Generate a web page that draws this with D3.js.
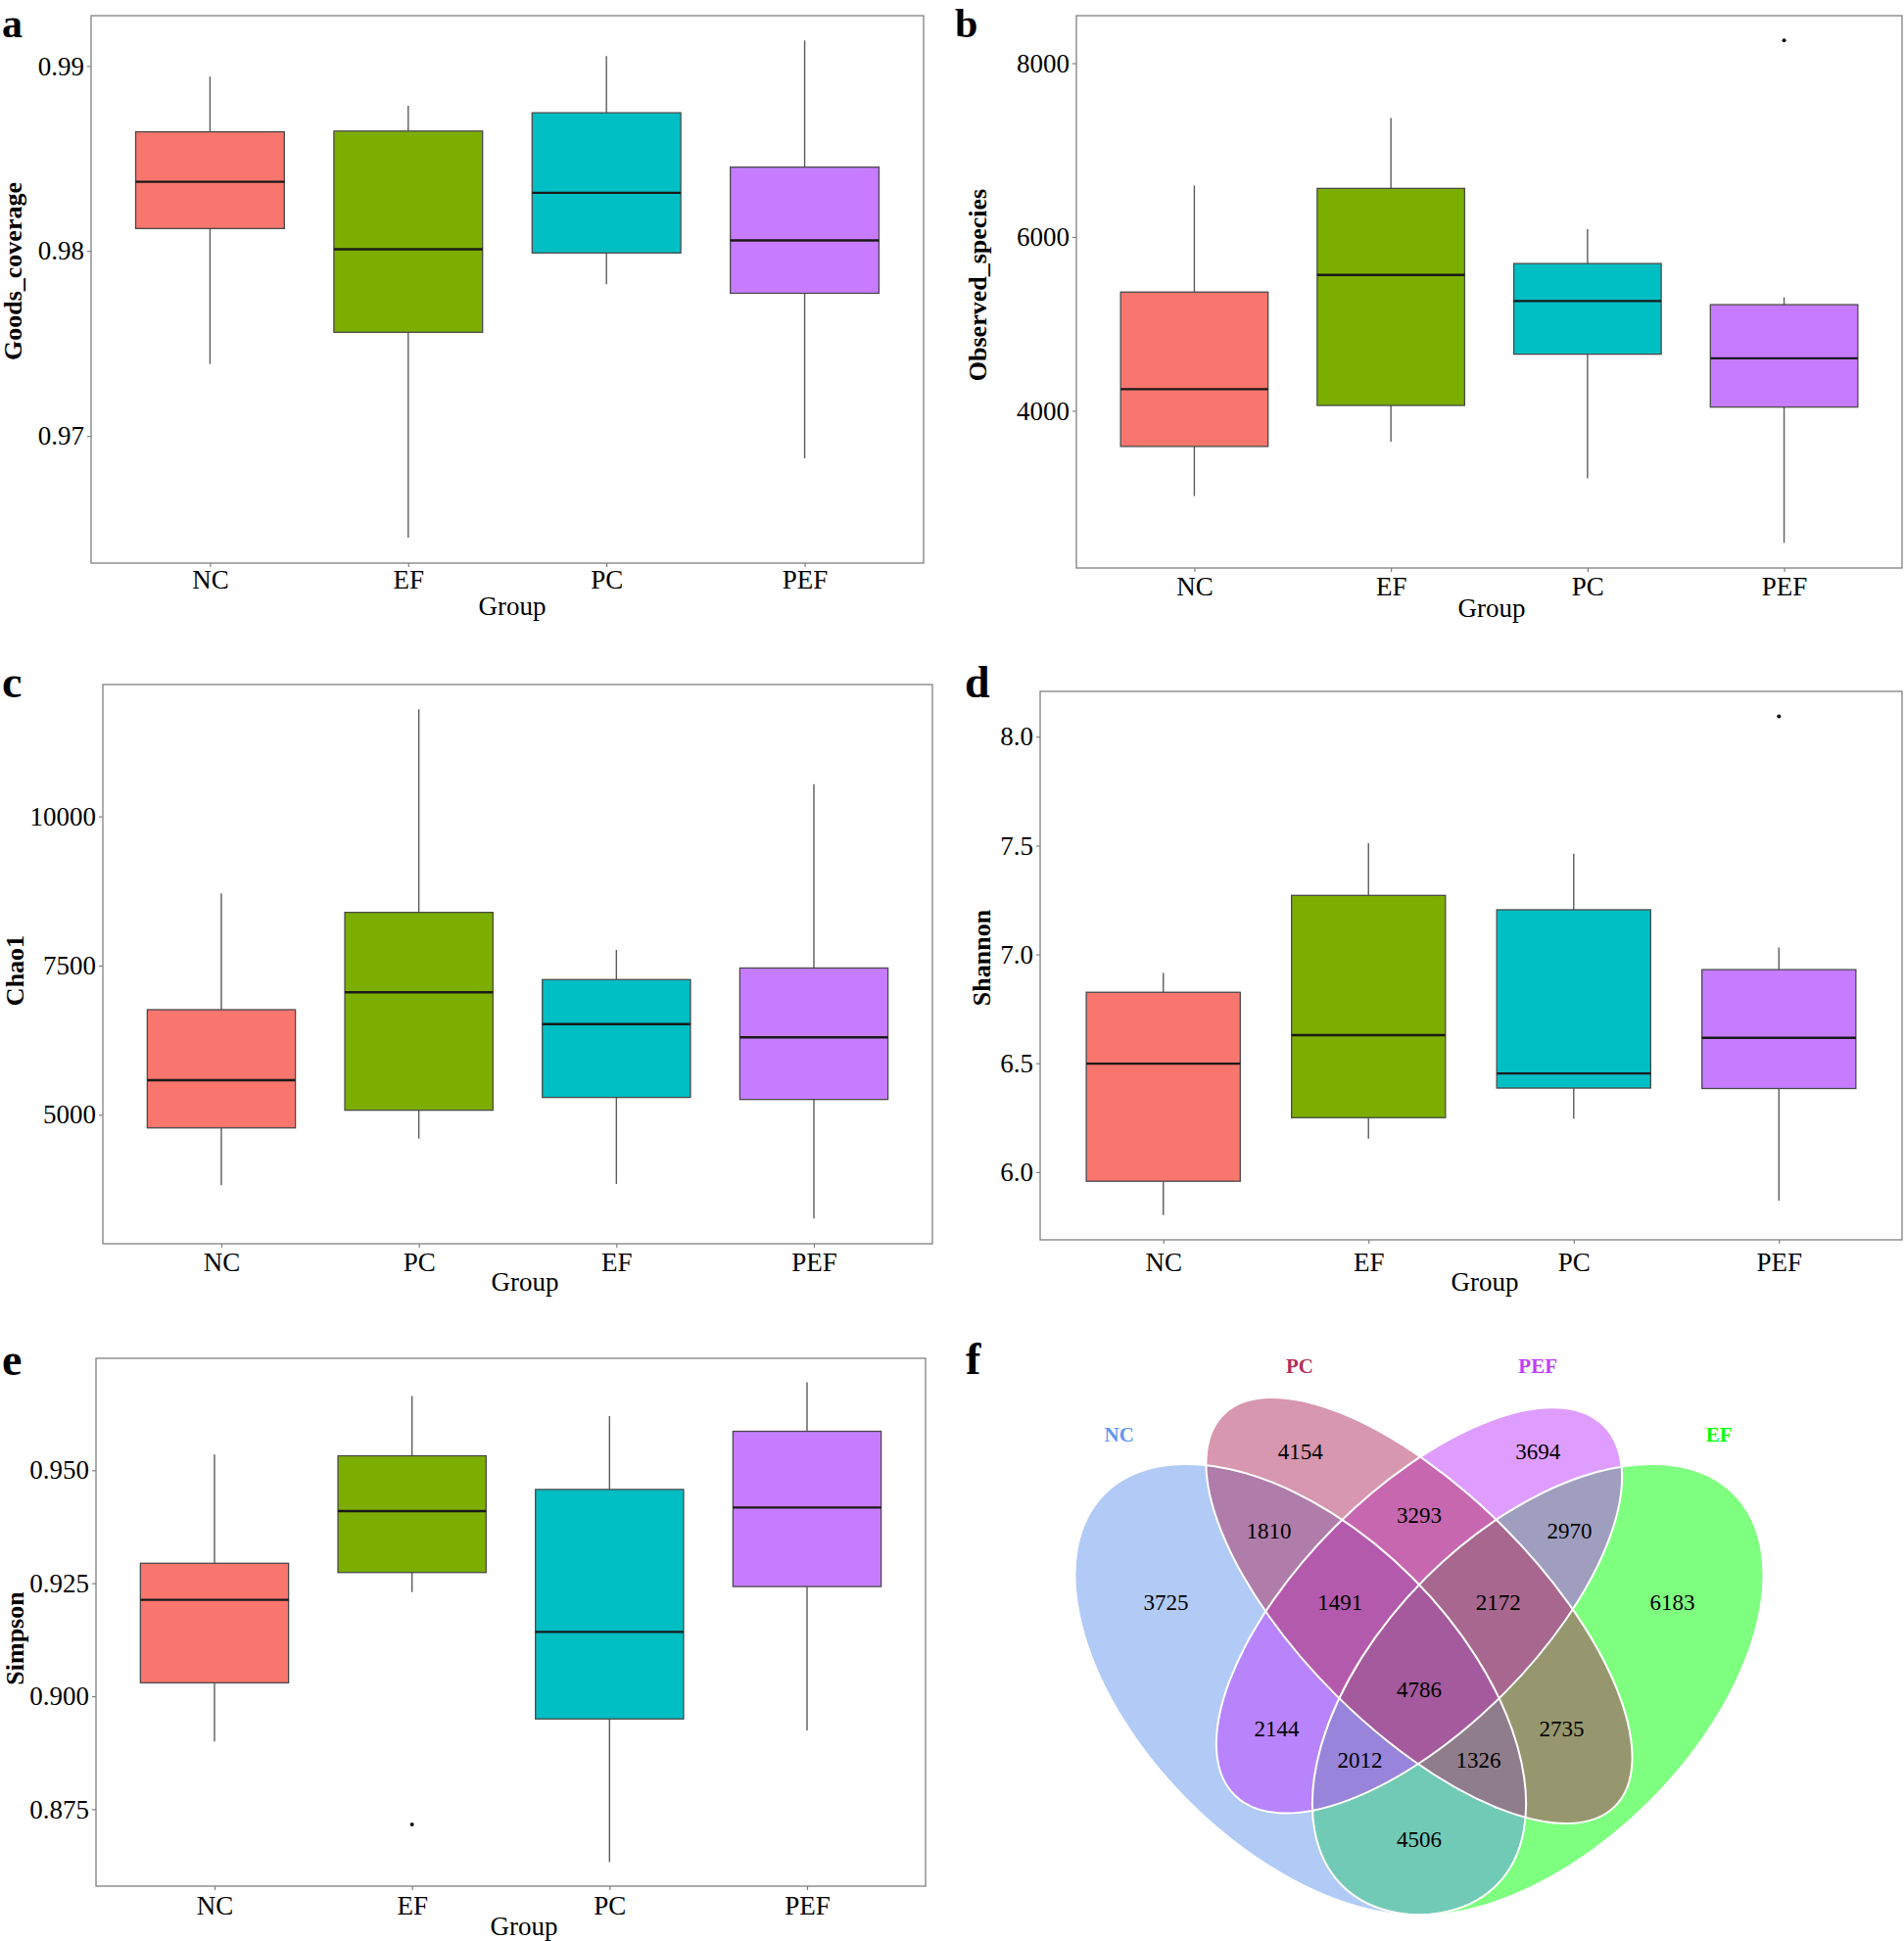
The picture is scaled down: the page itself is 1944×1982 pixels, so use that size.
<!DOCTYPE html>
<html><head><meta charset="utf-8">
<script src="https://cdn.jsdelivr.net/npm/d3@7"></script>
<style>
body{margin:0;background:#fff}
svg text{font-family:"Liberation Serif","Times New Roman",serif}
</style>
</head><body>
<svg id="chart" width="1944" height="1982"></svg>
<script>
// ---------------- DATA ----------------
// five-number summaries per group: [lower whisker, Q1, median, Q3, upper whisker]
const groupsA = ["NC", "EF", "PC", "PEF"];
const goodsCoverage = [
  [0.97389, 0.98121, 0.98374, 0.98644, 0.98943],
  [0.9645, 0.9756, 0.98009, 0.98648, 0.98785],
  [0.9782, 0.97989, 0.98314, 0.98747, 0.99053],
  [0.96879, 0.97771, 0.98057, 0.98453, 0.99138]
];
const goodsOutliers = [];
const goodsTicks = [0.97, 0.98, 0.99];
const goodsTickLabels = ["0.97", "0.98", "0.99"];

const groupsB = ["NC", "EF", "PC", "PEF"];
const observedSpecies = [
  [3018, 3589, 4248, 5366, 6592],
  [3645, 4061, 5563, 6559, 7368],
  [3224, 4651, 5263, 5694, 6091],
  [2480, 4042, 4604, 5221, 5305]
];
const observedOutliers = [{group: "PEF", value: 8262}];
const observedTicks = [4000, 6000, 8000];
const observedTickLabels = ["4000", "6000", "8000"];

const groupsC = ["NC", "PC", "EF", "PEF"];
const chao1 = [
  [3819, 4779, 5580, 6761, 8709],
  [4600, 5076, 7051, 8391, 11796],
  [3840, 5290, 6519, 7265, 7762],
  [3260, 5256, 6298, 7459, 10539]
];
const chao1Outliers = [];
const chao1Ticks = [5000, 7500, 10000];
const chao1TickLabels = ["5000", "7500", "10000"];

const groupsD = ["NC", "EF", "PC", "PEF"];
const shannon = [
  [5.803, 5.958, 6.498, 6.826, 6.915],
  [6.153, 6.25, 6.629, 7.271, 7.511],
  [6.246, 6.386, 6.453, 7.205, 7.462],
  [5.869, 6.384, 6.617, 6.93, 7.032]
];
const shannonOutliers = [{group: "PEF", value: 8.093}];
const shannonTicks = [6.0, 6.5, 7.0, 7.5, 8.0];
const shannonTickLabels = ["6.0", "6.5", "7.0", "7.5", "8.0"];

const groupsE = ["NC", "EF", "PC", "PEF"];
const simpson = [
  [0.89, 0.90296, 0.92133, 0.92941, 0.95346],
  [0.92302, 0.92737, 0.94095, 0.95319, 0.96642],
  [0.86329, 0.89497, 0.91423, 0.94574, 0.96198],
  [0.8924, 0.92426, 0.94175, 0.95861, 0.96944]
];
const simpsonOutliers = [{group: "EF", value: 0.87163}];
const simpsonTicks = [0.875, 0.9, 0.925, 0.95];
const simpsonTickLabels = ["0.875", "0.900", "0.925", "0.950"];

// Venn diagram (f)
const vennSets = ["NC", "PC", "PEF", "EF"];
const vennRegions = ["NC", "PC", "PEF", "EF",
  "NC&PC", "PC&PEF", "PEF&EF", "NC&EF", "NC&PEF", "PC&EF",
  "NC&PC&PEF", "PC&PEF&EF", "NC&PEF&EF", "NC&PC&EF", "NC&PC&PEF&EF"];
const vennCounts = [3725, 4154, 3694, 6183,
  1810, 3293, 2970, 4506, 2144, 2735,
  1491, 2172, 2012, 1326, 4786];

// ---------------- LAYOUT / STYLE ----------------
const fills = ["#F8766D", "#7CAE00", "#00BFC4", "#C77CFF"];
const panels = [
  {letter: "a", letterX: 2, letterY: 37.5, left: 93, right: 943, top: 16, bottom: 575,
   groups: groupsA, stats: goodsCoverage, outliers: goodsOutliers, domain: [0.96312, 0.99272],
   ticks: goodsTicks, tickLabels: goodsTickLabels, title: "Goods_coverage", titleX: 22, titleY: 277,
   xLabBase: 601, groupBase: 628, groupX: 523},
  {letter: "b", letterX: 975, letterY: 37.5, left: 1099, right: 1942, top: 16, bottom: 580,
   groups: groupsB, stats: observedSpecies, outliers: observedOutliers, domain: [2190, 8547],
   ticks: observedTicks, tickLabels: observedTickLabels, title: "Observed_species", titleX: 1007, titleY: 291,
   xLabBase: 608, groupBase: 630, groupX: 1523},
  {letter: "c", letterX: 2, letterY: 712, left: 105, right: 952, top: 699, bottom: 1270,
   groups: groupsC, stats: chao1, outliers: chao1Outliers, domain: [2838, 12210],
   ticks: chao1Ticks, tickLabels: chao1TickLabels, title: "Chao1", titleX: 24, titleY: 991,
   xLabBase: 1298, groupBase: 1318, groupX: 536},
  {letter: "d", letterX: 985, letterY: 712, left: 1062, right: 1942, top: 706, bottom: 1266,
   groups: groupsD, stats: shannon, outliers: shannonOutliers, domain: [5.689, 8.208],
   ticks: shannonTicks, tickLabels: shannonTickLabels, title: "Shannon", titleX: 1011, titleY: 978,
   xLabBase: 1298, groupBase: 1318, groupX: 1516},
  {letter: "e", letterX: 2, letterY: 1404, left: 98, right: 945, top: 1387, bottom: 1926,
   groups: groupsE, stats: simpson, outliers: simpsonOutliers, domain: [0.85797, 0.97476],
   ticks: simpsonTicks, tickLabels: simpsonTickLabels, title: "Simpson", titleX: 23.5, titleY: 1673,
   xLabBase: 1955, groupBase: 1976, groupX: 535}
];

const svg = d3.select("#chart");
svg.append("rect").attr("width", 1944).attr("height", 1982).attr("fill", "#fff");

function drawBoxPanel(p) {
  const g = svg.append("g");
  const x = d3.scalePoint().domain(p.groups).range([p.left, p.right]).padding(0.6);
  const y = d3.scaleLinear().domain(p.domain).range([p.bottom, p.top]);
  const bw = x.step() * 0.75;

  // y axis ticks + labels
  const ya = g.append("g").attr("transform", `translate(${p.left},0)`)
    .call(d3.axisLeft(y).tickValues(p.ticks).tickFormat((d, i) => p.tickLabels[i]).tickSize(4).tickPadding(3));
  ya.select(".domain").remove();
  ya.selectAll("line").attr("stroke", "#808080").attr("stroke-width", 1.2);
  ya.selectAll("text").attr("font-size", 27).attr("fill", "#000")
    .attr("font-family", "'Liberation Serif','Times New Roman',serif");

  // x axis ticks + labels
  const xa = g.append("g").attr("transform", `translate(0,${p.bottom})`)
    .call(d3.axisBottom(x).tickSize(4).tickPadding(0));
  xa.select(".domain").remove();
  xa.selectAll("line").attr("stroke", "#808080").attr("stroke-width", 1.2);
  xa.selectAll("text").attr("font-size", 27).attr("fill", "#000")
    .attr("font-family", "'Liberation Serif','Times New Roman',serif")
    .attr("y", p.xLabBase - p.bottom).attr("dy", 0);

  // boxes
  const bx = g.append("g");
  p.groups.forEach((name, i) => {
    const s = p.stats[i];
    const cx = x(name);
    bx.append("line").attr("x1", cx).attr("x2", cx).attr("y1", y(s[0])).attr("y2", y(s[1]))
      .attr("stroke", "#5c5c5c").attr("stroke-width", 1.4);
    bx.append("line").attr("x1", cx).attr("x2", cx).attr("y1", y(s[3])).attr("y2", y(s[4]))
      .attr("stroke", "#5c5c5c").attr("stroke-width", 1.4);
    bx.append("rect").attr("x", cx - bw / 2).attr("y", y(s[3]))
      .attr("width", bw).attr("height", y(s[1]) - y(s[3]))
      .attr("fill", fills[i]).attr("stroke", "#4a4a4a").attr("stroke-width", 1.3);
    bx.append("line").attr("x1", cx - bw / 2).attr("x2", cx + bw / 2)
      .attr("y1", y(s[2])).attr("y2", y(s[2]))
      .attr("stroke", "#1a1a1a").attr("stroke-width", 2.4);
  });
  p.outliers.forEach(o => {
    bx.append("circle").attr("cx", x(o.group)).attr("cy", y(o.value)).attr("r", 2).attr("fill", "#111");
  });

  // panel border
  g.append("rect").attr("x", p.left).attr("y", p.top)
    .attr("width", p.right - p.left).attr("height", p.bottom - p.top)
    .attr("fill", "none").attr("stroke", "#808080").attr("stroke-width", 1.3);

  // axis titles
  g.append("text").attr("x", p.groupX).attr("y", p.groupBase)
    .attr("text-anchor", "middle").attr("font-size", 27).text("Group");
  g.append("text").attr("transform", `translate(${p.titleX},${p.titleY}) rotate(-90)`)
    .attr("text-anchor", "middle").attr("font-size", 26).attr("font-weight", "bold").text(p.title);
  // panel letter
  g.append("text").attr("x", p.letterX).attr("y", p.letterY)
    .attr("font-size", p.letterY < 100 ? 42 : 46).attr("font-weight", "bold").text(p.letter);
}
panels.forEach(drawBoxPanel);

// ---------------- VENN ----------------
const vx = d3.scaleLinear().domain([0, 1]).range([1449 - 404, 1449 + 404]);
const vy = d3.scaleLinear().domain([0, 1]).range([2105, 2105 - 808]);
const vUnit = 808;
const setColors = {NC: "#6495ED", PC: "#B03060", PEF: "#BF3EFF", EF: "#00FF00"};
const ellipses = {
  NC:  {x: 0.35, y: 0.47, a: 0.35, b: 0.20, rot: 135},
  EF:  {x: 0.65, y: 0.47, a: 0.35, b: 0.20, rot: 45},
  PC:  {x: 0.50, y: 0.57, a: 0.35, b: 0.15, rot: 135},
  PEF: {x: 0.50, y: 0.57, a: 0.33, b: 0.15, rot: 45}
};
const drawOrder = ["EF", "NC", "PEF", "PC"];
const regionAnchor = {
  "NC": [0.18, 0.58], "PC": [0.35, 0.77], "PEF": [0.65, 0.77], "EF": [0.82, 0.58],
  "NC&PC": [0.31, 0.67], "PC&PEF": [0.50, 0.69], "PEF&EF": [0.69, 0.67], "NC&EF": [0.50, 0.28],
  "NC&PEF": [0.32, 0.42], "PC&EF": [0.68, 0.42],
  "NC&PC&PEF": [0.40, 0.58], "PC&PEF&EF": [0.60, 0.58], "NC&PEF&EF": [0.425, 0.38], "NC&PC&EF": [0.575, 0.38],
  "NC&PC&PEF&EF": [0.50, 0.47]
};
const setLabelAnchor = {NC: [0.121, 0.783], PC: [0.349, 0.870], PEF: [0.650, 0.870], EF: [0.879, 0.783]};

const vg = svg.append("g");
function ell(sel, k) {
  const e = ellipses[k];
  return sel.append("ellipse").attr("cx", vx(e.x)).attr("cy", vy(e.y))
    .attr("rx", e.a * vUnit).attr("ry", e.b * vUnit)
    .attr("transform", `rotate(${-e.rot},${vx(e.x)},${vy(e.y)})`);
}
drawOrder.forEach(k => ell(vg, k).attr("fill", setColors[k]).attr("fill-opacity", 0.5).attr("stroke", "none"));
drawOrder.forEach(k => ell(vg, k).attr("fill", "none").attr("stroke", "#fff").attr("stroke-width", 2));

vennRegions.forEach((r, i) => {
  const a = regionAnchor[r];
  vg.append("text").attr("x", vx(a[0])).attr("y", vy(a[1]))
    .attr("text-anchor", "middle").attr("dominant-baseline", "central")
    .attr("font-size", 23).attr("fill", "#000").text(vennCounts[i]);
});
vennSets.forEach(s => {
  const a = setLabelAnchor[s];
  vg.append("text").attr("x", vx(a[0])).attr("y", vy(a[1]))
    .attr("text-anchor", "middle").attr("font-size", 21).attr("font-weight", "bold")
    .attr("fill", setColors[s]).text(s);
});
svg.append("text").attr("x", 986).attr("y", 1403).attr("font-size", 46).attr("font-weight", "bold").text("f");
</script>
</body></html>
